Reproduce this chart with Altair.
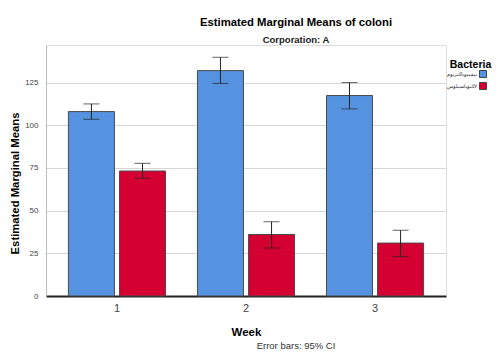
import altair as alt
import pandas as pd

weeks = ["1", "2", "3"]
bacteria = ["بیفیدوباکتریوم", "لاکتوباسیلوس"]
colors = ["#5593E1", "#D50032"]

mean_bifido = [108.0, 132.0, 117.4]
mean_lacto = [73.2, 36.0, 31.0]
low_bifido = [103.5, 124.5, 109.6]
low_lacto = [69.0, 28.1, 23.0]
high_bifido = [112.5, 139.8, 125.0]
high_lacto = [77.7, 43.5, 38.5]

rows = []
for i, w in enumerate(weeks):
    rows.append({"Week": w, "Bacteria": bacteria[0], "mean": mean_bifido[i],
                 "lo": low_bifido[i], "hi": high_bifido[i]})
    rows.append({"Week": w, "Bacteria": bacteria[1], "mean": mean_lacto[i],
                 "lo": low_lacto[i], "hi": high_lacto[i]})
df = pd.DataFrame(rows)

FONT = "Liberation Sans"

x = alt.X("Week:N", sort=weeks,
          scale=alt.Scale(paddingInner=0.2, paddingOuter=0.15),
          axis=alt.Axis(title="Week", labelAngle=0, labelFontSize=11, labelColor="#444444",
                        labelFont=FONT, labelPadding=6, ticks=False, domainColor="#222222",
                        domainWidth=2, titleFont=FONT, titleFontSize=11.5, titleFontWeight="bold",
                        titlePadding=13, titleColor="#000000"))
xo = alt.XOffset("Bacteria:N", sort=bacteria,
                 scale=alt.Scale(paddingInner=0.1, paddingOuter=0.06))

bars = alt.Chart(df).mark_bar(stroke="#4a4a4a", strokeWidth=1).encode(
    x=x,
    xOffset=xo,
    y=alt.Y("mean:Q", scale=alt.Scale(domain=[0, 147], nice=False),
            axis=alt.Axis(title="Estimated Marginal Means", values=[0, 25, 50, 75, 100, 125],
                          labelFontSize=8, labelColor="#444444", labelFont=FONT, ticks=False,
                          labelPadding=8, domainColor="#bbbbbb", gridColor="#d6d6d6",
                          titleFont=FONT, titleFontSize=11.3, titleFontWeight="bold",
                          titleColor="#000000", titleX=-31, titleY=138, titleAngle=-90,
                          titleAlign="center", titleBaseline="middle")),
    color=alt.Color("Bacteria:N", sort=bacteria,
                    scale=alt.Scale(domain=bacteria, range=colors),
                    legend=alt.Legend(title=None, orient="none", legendX=433, legendY=25,
                                      padding=0,
                                      labelFont=FONT, labelFontSize=5.2, labelColor="#111111",
                                      labelAlign="right", labelOffset={"expr": "-10"},
                                      symbolType="square", symbolSize=49,
                                      symbolStrokeColor="#444444", symbolStrokeWidth=1,
                                      rowPadding=0)),
)

rules = alt.Chart(df).mark_rule(color="#222222", strokeWidth=1).encode(
    x=x, xOffset=xo, y="lo:Q", y2="hi:Q")
caps_lo = alt.Chart(df).mark_tick(color="#222222", thickness=1, size=16).encode(
    x=x, xOffset=xo, y="lo:Q")
caps_hi = alt.Chart(df).mark_tick(color="#222222", thickness=1, size=16).encode(
    x=x, xOffset=xo, y="hi:Q")

legend_title = alt.Chart(pd.DataFrame({"t": ["Bacteria"]})).mark_text(
    font=FONT, fontSize=10.5, fontWeight="bold", color="#000000", align="center",
    baseline="middle").encode(text="t:N", x=alt.value(424.5), y=alt.value(20))

note = alt.Chart(pd.DataFrame({"t": ["Error bars: 95% CI"]})).mark_text(
    font=FONT, fontSize=9.5, color="#333333", align="center", baseline="middle").encode(
    text="t:N", x=alt.value(250), y=alt.value(301))

chart = alt.layer(bars, rules, caps_lo, caps_hi, legend_title, note).properties(
    width=400, height=251,
    padding={"left": 38, "top": 37, "right": 46, "bottom": 54},
    autosize=alt.AutoSizeParams(type="none"),
    title=alt.TitleParams(text="Estimated Marginal Means of coloni",
                          subtitle="Corporation: A", font=FONT, fontSize=11.3, fontWeight="bold",
                          subtitleFont=FONT, subtitleFontSize=9.5, subtitleFontWeight="bold",
                          subtitleColor="#222222", color="#000000", anchor="middle", dx=50,
                          offset=1, subtitlePadding=6),
).configure_view(stroke=None).configure(background="white")

chart.save("out.html", embed_options={"renderer": "svg", "actions": False})
